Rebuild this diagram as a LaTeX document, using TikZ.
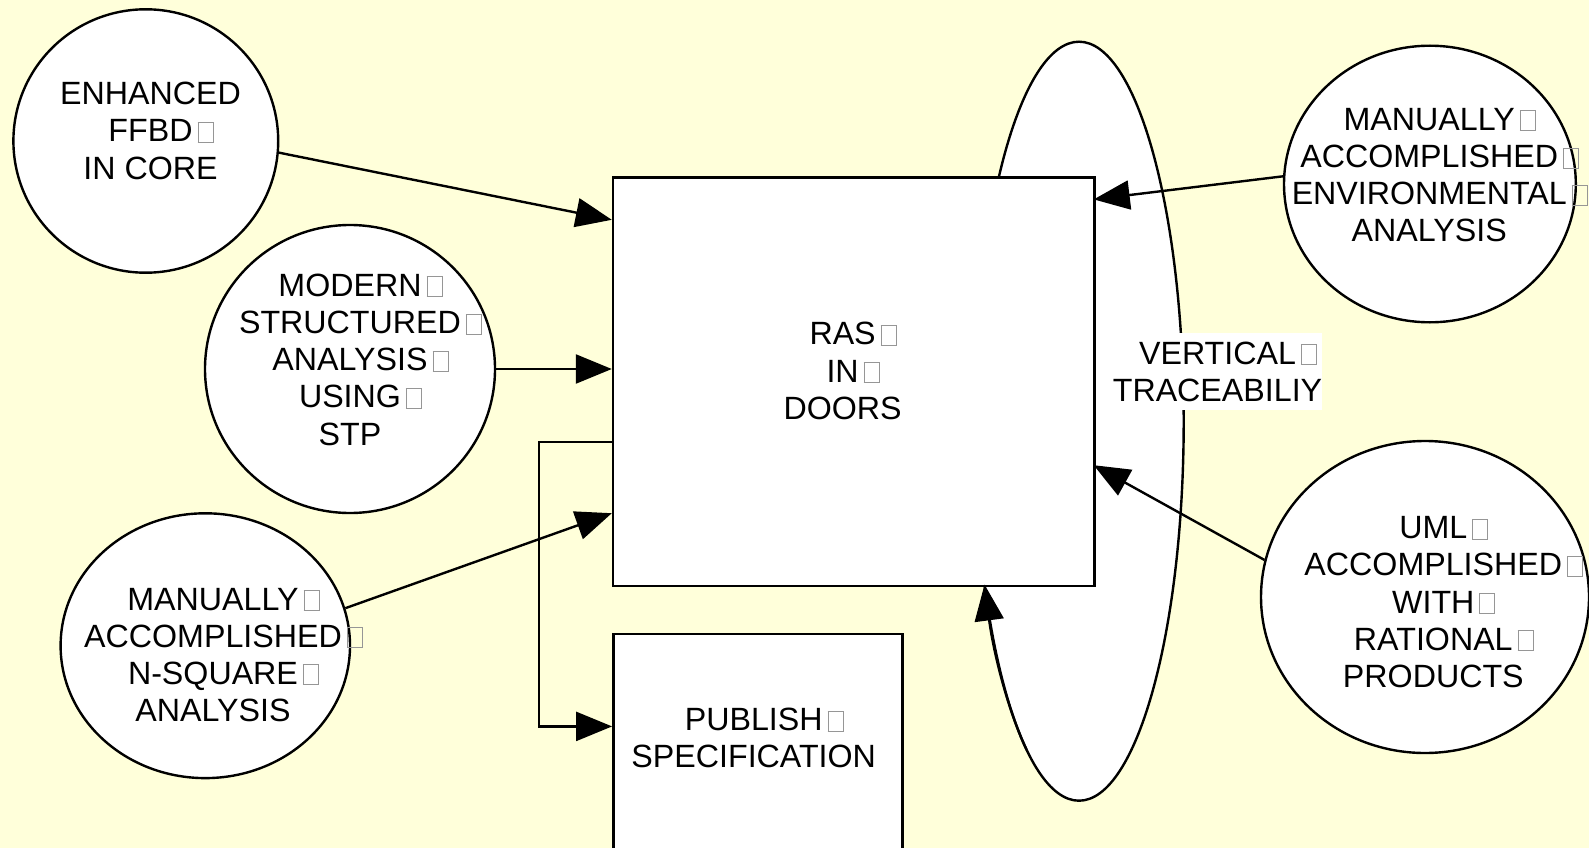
\documentclass[tikz,border=0pt]{standalone}
\usepackage{fontspec}
\setmainfont{Liberation Sans}
\usetikzlibrary{arrows.meta,shapes.geometric,calc}
\definecolor{bg}{RGB}{255,255,218}
\definecolor{boxgray}{RGB}{150,150,150}
\newcommand\bx{\rlap{\hspace{5pt}\textcolor{boxgray}{\setlength\fboxsep{0pt}\setlength\fboxrule{1pt}\fbox{\rule{0pt}{19pt}\hspace{14pt}}}}}
\begin{document}
\begin{tikzpicture}[x=1pt,y=-1pt,
  shp/.style={draw, fill=white, line width=2.4pt, inner sep=0pt},
  circ/.style={shp, ellipse},
  boxshape/.style={shp, rectangle},
  txt/.style={align=center, inner sep=0pt, font=\fontsize{32.2}{37.2}\selectfont, anchor=north},
  arr/.style={line width=2.4pt, -{Triangle[length=36pt,width=29pt]}}]
\fill[bg] (0,0) rectangle (1589,848);
\useasboundingbox (0,0) rectangle (1589,848);

% traceability loop
\node[circ, minimum width=209.4pt, minimum height=759pt] (loop) at (1079,421.2) {};
% boxes
\node[boxshape, minimum width=481.5pt, minimum height=408.4pt] (ras) at (853.75,381.5) {};
\node[boxshape, minimum width=289pt, minimum height=300pt] (pub) at (757.8,784) {};
% circles
\node[circ, minimum width=264.8pt, minimum height=263.4pt] (c1) at (145.8,141) {};
\node[circ, minimum width=290pt, minimum height=288pt] (c2) at (350,369) {};
\node[circ, minimum width=289.4pt, minimum height=264.8pt] (c3) at (205.3,645.7) {};
\node[circ, minimum width=291.8pt, minimum height=276.6pt] (c4) at (1429.9,184) {};
\node[circ, minimum width=328pt, minimum height=312pt] (c5) at (1425,597) {};

% label on loop
\node[txt, anchor=center, fill=white, inner ysep=8.3pt, inner xsep=0pt] (t8) at (1217.5,371.7) {VERTICAL\bx\\TRACEABILIY};

% texts
\node[txt] (t1) at (150.5,82) {ENHANCED\\FFBD\bx\\IN CORE};
\node[txt] (t2) at (350,273.7) {MODERN\bx\\STRUCTURED\bx\\ANALYSIS\bx\\USING\bx\\STP};
\node[txt] (t3) at (213,587.7) {MANUALLY\bx\\ACCOMPLISHED\bx\\N-SQUARE\bx\\ANALYSIS};
\node[txt] (t4) at (1429.2,108) {MANUALLY\bx\\ACCOMPLISHED\bx\\ENVIRONMENTAL\bx\\ANALYSIS};
\node[txt] (t5) at (1433.3,516.3) {UML\bx\\ACCOMPLISHED\bx\\WITH\bx\\RATIONAL\bx\\PRODUCTS};
\node[txt] (t6) at (842.6,322.3) {RAS\bx\\IN\bx\\DOORS};
\node[txt] (t7) at (753.7,708) {PUBLISH\bx\\SPECIFICATION};

% connectors
\draw[arr] (c1.-5) -- ($(ras.north west)+(0,43.7)$);
\draw[arr] (c2.east) -- (c2.east -| ras.west);
\draw[arr] (c3.15) -- ($(ras.south west)+(0,-73.7)$);
\coordinate (e1) at ($(ras.south west)+(0,-144.9)$);
\coordinate (e2) at ($(pub.north west)+(0,93.6)$);
\draw[arr] (e1) -- ++(-73,0) |- (e2);
\draw[arr] (c4.177) -- ($(ras.north east)+(-2,23.3)$);
\draw[arr] (c5.167) -- ($(ras.south east)+(-2,-121.7)$);
\draw[arr] ($(loop.center)+({104.7*cos(120)},{379.5*sin(120)})$) arc[start angle=120, end angle=154.5, x radius=104.7, y radius=379.5];
\end{tikzpicture}
\end{document}
